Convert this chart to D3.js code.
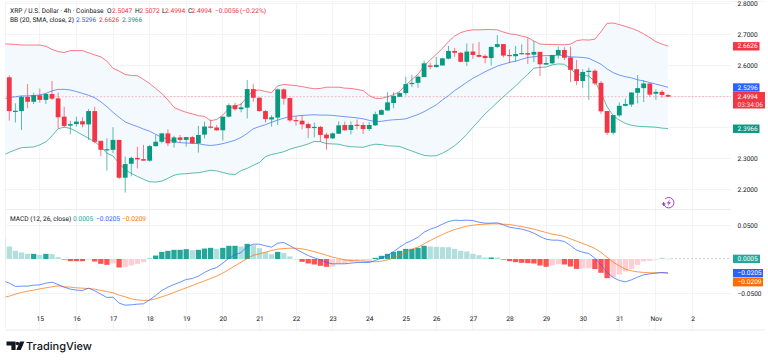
<!DOCTYPE html>
<html><head><meta charset="utf-8">
<script src="https://cdn.jsdelivr.net/npm/d3@7/dist/d3.min.js"></script>
<style>html,body{margin:0;padding:0;background:#fff;overflow:hidden}svg{display:block;font-family:Roboto,Arial,sans-serif;text-rendering:geometricPrecision}</style>
</head><body><svg id="c" width="768" height="361"></svg>
<script>
const opens=[2.562,2.452,2.453,2.499,2.483,2.504,2.489,2.508,2.494,2.435,2.406,2.411,2.420,2.410,2.453,2.357,2.328,2.328,2.360,2.238,2.283,2.302,2.298,2.293,2.340,2.354,2.381,2.351,2.368,2.360,2.369,2.349,2.377,2.403,2.400,2.391,2.435,2.472,2.459,2.464,2.524,2.496,2.453,2.426,2.432,2.523,2.495,2.424,2.422,2.411,2.399,2.402,2.377,2.365,2.380,2.408,2.392,2.409,2.408,2.395,2.407,2.441,2.455,2.479,2.499,2.511,2.540,2.544,2.563,2.600,2.595,2.600,2.622,2.647,2.641,2.612,2.645,2.634,2.631,2.624,2.660,2.669,2.634,2.630,2.638,2.640,2.635,2.644,2.603,2.607,2.634,2.650,2.626,2.588,2.550,2.579,2.583,2.544,2.453,2.383,2.439,2.470,2.474,2.512,2.527,2.542,2.509,2.515,2.5047];
const highs=[2.568,2.478,2.502,2.540,2.512,2.526,2.510,2.550,2.513,2.467,2.422,2.435,2.433,2.460,2.467,2.357,2.365,2.401,2.360,2.306,2.306,2.338,2.344,2.344,2.376,2.383,2.394,2.373,2.376,2.370,2.373,2.405,2.419,2.426,2.408,2.435,2.478,2.480,2.480,2.553,2.540,2.498,2.456,2.440,2.526,2.526,2.495,2.437,2.440,2.416,2.416,2.405,2.383,2.384,2.420,2.419,2.420,2.426,2.416,2.418,2.451,2.459,2.514,2.514,2.514,2.564,2.570,2.568,2.616,2.609,2.628,2.625,2.663,2.657,2.644,2.671,2.671,2.676,2.636,2.661,2.698,2.669,2.652,2.663,2.668,2.688,2.679,2.644,2.628,2.634,2.661,2.659,2.661,2.618,2.588,2.593,2.588,2.550,2.453,2.440,2.481,2.493,2.513,2.569,2.553,2.542,2.523,2.521,2.5072];
const lows=[2.422,2.416,2.392,2.462,2.476,2.480,2.476,2.489,2.397,2.401,2.378,2.403,2.401,2.360,2.349,2.308,2.261,2.317,2.233,2.190,2.242,2.268,2.293,2.290,2.338,2.349,2.340,2.335,2.351,2.338,2.347,2.319,2.365,2.397,2.389,2.358,2.433,2.454,2.449,2.429,2.483,2.451,2.416,2.403,2.408,2.474,2.418,2.406,2.394,2.366,2.368,2.354,2.328,2.363,2.379,2.390,2.378,2.394,2.379,2.389,2.405,2.440,2.454,2.462,2.499,2.503,2.530,2.528,2.562,2.588,2.593,2.600,2.620,2.628,2.610,2.598,2.621,2.626,2.607,2.600,2.656,2.626,2.607,2.612,2.636,2.605,2.611,2.566,2.602,2.605,2.622,2.618,2.546,2.537,2.528,2.489,2.537,2.444,2.376,2.377,2.435,2.468,2.467,2.478,2.482,2.499,2.489,2.496,2.4994];
const closes=[2.453,2.454,2.499,2.483,2.504,2.489,2.508,2.493,2.433,2.405,2.411,2.419,2.410,2.453,2.354,2.328,2.330,2.360,2.238,2.282,2.302,2.297,2.293,2.340,2.354,2.381,2.349,2.368,2.360,2.369,2.349,2.376,2.403,2.400,2.391,2.435,2.472,2.459,2.465,2.524,2.496,2.453,2.427,2.433,2.523,2.493,2.423,2.422,2.410,2.398,2.402,2.376,2.365,2.381,2.407,2.391,2.408,2.407,2.395,2.408,2.443,2.456,2.481,2.502,2.511,2.540,2.544,2.564,2.607,2.596,2.602,2.623,2.647,2.641,2.612,2.645,2.634,2.628,2.624,2.660,2.669,2.632,2.632,2.637,2.640,2.635,2.644,2.604,2.608,2.634,2.650,2.625,2.586,2.550,2.579,2.583,2.542,2.452,2.383,2.440,2.470,2.476,2.513,2.527,2.542,2.506,2.515,2.505,2.4994];

// Bollinger and MACD series begin one bar before the first visible candle.
const bbUpper=[2.670,2.669,2.668,2.666,2.666,2.666,2.666,2.662,2.652,2.645,2.642,2.648,2.648,2.648,2.641,2.634,2.628,2.614,2.591,2.582,2.571,2.568,2.567,2.555,2.542,2.526,2.510,2.489,2.465,2.456,2.449,2.444,2.438,2.436,2.422,2.426,2.440,2.462,2.469,2.475,2.499,2.519,2.521,2.516,2.513,2.534,2.539,2.537,2.535,2.532,2.528,2.525,2.526,2.530,2.530,2.530,2.527,2.526,2.523,2.519,2.503,2.494,2.494,2.499,2.506,2.516,2.537,2.555,2.572,2.598,2.618,2.636,2.655,2.677,2.695,2.706,2.712,2.715,2.715,2.716,2.716,2.715,2.708,2.702,2.700,2.695,2.690,2.679,2.669,2.668,2.668,2.667,2.667,2.669,2.680,2.683,2.682,2.685,2.709,2.736,2.737,2.732,2.726,2.720,2.712,2.702,2.690,2.677,2.669,2.6626];
const bbBasis=[2.491,2.497,2.499,2.502,2.502,2.503,2.505,2.510,2.518,2.523,2.523,2.521,2.516,2.510,2.504,2.496,2.483,2.467,2.449,2.433,2.418,2.410,2.403,2.395,2.388,2.378,2.368,2.362,2.355,2.351,2.350,2.349,2.348,2.344,2.342,2.344,2.348,2.353,2.359,2.368,2.381,2.396,2.403,2.409,2.417,2.424,2.430,2.435,2.437,2.439,2.440,2.441,2.440,2.440,2.439,2.437,2.435,2.433,2.431,2.428,2.423,2.419,2.420,2.423,2.425,2.426,2.428,2.435,2.442,2.451,2.462,2.473,2.489,2.503,2.519,2.532,2.546,2.559,2.569,2.580,2.589,2.598,2.604,2.610,2.614,2.620,2.626,2.628,2.631,2.632,2.632,2.633,2.632,2.628,2.627,2.626,2.623,2.614,2.604,2.589,2.577,2.569,2.564,2.560,2.554,2.550,2.545,2.540,2.535,2.5296];
const bbLower=[2.311,2.320,2.328,2.335,2.336,2.337,2.344,2.354,2.373,2.396,2.401,2.397,2.387,2.376,2.365,2.354,2.338,2.317,2.308,2.285,2.263,2.252,2.242,2.233,2.225,2.224,2.227,2.236,2.246,2.250,2.251,2.253,2.254,2.258,2.262,2.260,2.255,2.250,2.248,2.261,2.268,2.278,2.287,2.306,2.313,2.317,2.322,2.330,2.336,2.341,2.347,2.355,2.354,2.348,2.347,2.346,2.341,2.338,2.337,2.336,2.342,2.346,2.345,2.341,2.340,2.339,2.331,2.324,2.317,2.310,2.308,2.309,2.317,2.328,2.341,2.358,2.378,2.401,2.422,2.444,2.462,2.481,2.499,2.517,2.534,2.553,2.572,2.591,2.594,2.595,2.602,2.605,2.604,2.589,2.572,2.568,2.566,2.548,2.512,2.467,2.438,2.424,2.413,2.407,2.404,2.403,2.402,2.401,2.398,2.3966];
const macdHist=[.0296,.0184,.0120,.0096,.0076,.0076,.0061,.0076,.0071,.0027,-.0007,-.0032,-.0032,-.0032,-.0010,-.0037,-.0071,-.0086,-.0066,-.0125,-.0120,-.0096,-.0071,-.0047,.0017,.0051,.0105,.0120,.0135,.0135,.0145,.0130,.0135,.0154,.0164,.0149,.0164,.0194,.0194,.0184,.0223,.0203,.0159,.0100,.0071,.0105,.0091,.0037,-.0007,-.0042,-.0066,-.0081,-.0100,-.0115,-.0110,-.0071,-.0071,-.0047,-.0032,-.0027,-.0027,.0017,.0047,.0076,.0105,.0120,.0149,.0149,.0164,.0194,.0184,.0179,.0174,.0174,.0149,.0120,.0110,.0076,.0056,.0022,.0022,.0022,-.0007,-.0032,-.0047,-.0056,-.0061,-.0066,-.0096,-.0115,-.0096,-.0076,-.0081,-.0110,-.0145,-.0140,-.0135,-.0149,-.0203,-.0282,-.0272,-.0228,-.0184,-.0145,-.0086,-.0037,-.0027,-.0007,.0017,.0005];
const histRising=[0,0,0,0,0,1,0,1,0,0,0,0,0,0,1,0,0,0,1,0,1,1,1,1,0,1,1,1,1,1,1,0,1,1,1,0,1,1,1,0,1,0,0,0,0,1,0,0,1,0,0,0,0,0,1,1,1,1,1,1,1,1,1,1,1,1,1,1,1,1,0,0,0,0,0,0,0,0,0,0,1,0,0,0,0,0,0,0,0,0,1,1,0,0,0,1,1,0,0,0,1,1,1,1,1,1,1,1,0,0];
const macdLine=[-.0321,-.0355,-.0404,-.0399,-.0399,-.0385,-.0380,-.0355,-.0341,-.0375,-.0414,-.0443,-.0458,-.0463,-.0429,-.0468,-.0517,-.0566,-.0561,-.0649,-.0679,-.0674,-.0664,-.0659,-.0600,-.0537,-.0463,-.0414,-.0375,-.0341,-.0301,-.0287,-.0252,-.0198,-.0154,-.0125,-.0061,.0012,.0061,.0096,.0184,.0218,.0218,.0194,.0174,.0233,.0243,.0194,.0145,.0096,.0051,.0017,-.0012,-.0051,-.0071,-.0071,-.0071,-.0061,-.0051,-.0051,-.0051,-.0022,.0012,.0051,.0110,.0174,.0233,.0272,.0321,.0394,.0439,.0468,.0512,.0551,.0571,.0566,.0571,.0566,.0541,.0527,.0527,.0532,.0502,.0468,.0453,.0439,.0414,.0380,.0331,.0292,.0277,.0277,.0257,.0198,.0130,.0100,.0081,.0012,-.0086,-.0198,-.0272,-.0316,-.0336,-.0306,-.0267,-.0233,-.0218,-.0208,-.0198,-.0205];
const signalLine=[-.0566,-.0546,-.0517,-.0492,-.0473,-.0458,-.0439,-.0424,-.0409,-.0394,-.0409,-.0414,-.0424,-.0429,-.0434,-.0443,-.0463,-.0478,-.0497,-.0532,-.0556,-.0586,-.0600,-.0610,-.0605,-.0586,-.0556,-.0527,-.0492,-.0458,-.0424,-.0390,-.0355,-.0321,-.0287,-.0252,-.0208,-.0154,-.0100,-.0047,.0007,.0056,.0076,.0100,.0125,.0145,.0154,.0159,.0159,.0149,.0130,.0110,.0081,.0056,.0027,.0007,-.0012,-.0022,-.0027,-.0032,-.0037,-.0042,-.0032,-.0012,.0012,.0051,.0100,.0145,.0174,.0223,.0272,.0316,.0360,.0399,.0434,.0458,.0483,.0497,.0507,.0512,.0517,.0517,.0512,.0507,.0492,.0478,.0458,.0439,.0414,.0390,.0365,.0350,.0331,.0296,.0262,.0228,.0194,.0154,.0096,.0027,-.0047,-.0100,-.0149,-.0174,-.0189,-.0198,-.0203,-.0203,-.0203,-.0209];

const dayTickBars=[5,11,17,23,29,35,41,47,53,59,65,70,76,82,88,94,100,106,112];
const dayTickLabels=["15","16","17","18","19","20","21","22","23","24","25","26","27","28","29","30","31","Nov","2"];
const priceTicks=[2.8,2.7,2.6,2.5,2.4,2.3,2.2];
const priceTickLabels=[2.8,2.7,2.6,2.3,2.2];
const macdTicks=[.05,-.05];
const lastPrice=2.4994, countdown="03:34:06";

const RED="#f23645",GREEN="#089981",BLUE="#2962ff",ORANGE="#ff6d00",TEAL="#26a69a",TXT="#131722";
const L=5.5,R=731,W=768;
const x=d3.scaleLinear().domain([0,108]).range([9.3,668.1]);
const y=d3.scaleLinear().domain([2.2,2.8]).range([189.5,3.5]);
const yM=d3.scaleLinear().domain([-.05,.05]).range([293,225]);
const svg=d3.select("#c");
svg.append("defs").append("clipPath").attr("id","plot").append("rect")
  .attr("x",L).attr("y",0).attr("width",R-L).attr("height",329);

// Grid
const grid=svg.append("g").attr("stroke","#f2f3f6").attr("stroke-width",1).attr("shape-rendering","crispEdges");
grid.selectAll(".v").data(dayTickBars).join("line").attr("x1",d=>x(d)).attr("x2",d=>x(d)).attr("y1",2).attr("y2",329);
grid.selectAll(".h").data(priceTicks).join("line").attr("x1",L).attr("x2",R).attr("y1",d=>y(d)).attr("y2",d=>y(d));
grid.selectAll(".m").data(macdTicks).join("line").attr("x1",L).attr("x2",R).attr("y1",d=>yM(d)).attr("y2",d=>yM(d));
grid.append("line").attr("x1",L).attr("x2",L).attr("y1",2).attr("y2",329);
grid.append("line").attr("x1",L).attr("x2",R).attr("y1",209).attr("y2",209).attr("stroke","#eceef2");
svg.append("rect").attr("x",L).attr("y",329).attr("width",W-L-3).attr("height",2).attr("fill","#f3f4f6");
svg.append("rect").attr("x",L).attr("y",1).attr("width",W-L-3).attr("height",1).attr("fill","#f5f6f8");

const plot=svg.append("g").attr("clip-path","url(#plot)");
const bandIdx=i=>i-1;
// Band fill
plot.append("path").attr("fill","#f4f9fe")
  .attr("d",d3.area().x((d,i)=>x(bandIdx(i))).y0((d,i)=>y(bbLower[i])).y1(d=>y(d))(bbUpper));
// Last price line
plot.append("line").attr("x1",L).attr("x2",R).attr("y1",y(lastPrice)).attr("y2",y(lastPrice))
  .attr("stroke",RED).attr("stroke-opacity",.32).attr("stroke-dasharray","2 1.5");
const ln=d3.line().x((d,i)=>x(bandIdx(i)));
[[bbUpper,RED],[bbBasis,BLUE],[bbLower,GREEN]].forEach(([s,c])=>{
  plot.append("path").attr("fill","none").attr("stroke",c).attr("stroke-width",1).attr("stroke-opacity",.65)
    .attr("d",ln.y(d=>y(d))(s));
});
// Candles
const cd=d3.range(opens.length);
const col=i=>closes[i]>=opens[i]?GREEN:RED;
plot.selectAll(".w").data(cd).join("line").attr("x1",i=>x(i)).attr("x2",i=>x(i))
  .attr("y1",i=>y(highs[i])).attr("y2",i=>y(lows[i])).attr("stroke",col).attr("stroke-width",1).attr("stroke-opacity",.65);
plot.selectAll(".b").data(cd).join("rect").attr("x",i=>x(i)-2.4).attr("width",4.8)
  .attr("y",i=>y(Math.max(opens[i],closes[i])))
  .attr("height",i=>Math.max(1.2,Math.abs(y(opens[i])-y(closes[i])))).attr("fill",col);

// MACD histogram
plot.selectAll(".h").data(macdHist).join("rect")
  .attr("x",(d,i)=>x(bandIdx(i))-2.65).attr("width",5.3)
  .attr("y",d=>Math.min(yM(d),yM(0))).attr("height",d=>Math.max(.6,Math.abs(yM(d)-yM(0))))
  .attr("fill",(d,i)=>d>=0?(histRising[i]?TEAL:"#b2dfdb"):(histRising[i]?"#ffcdd2":"#ff5252"));
plot.append("line").attr("x1",x(108)+3).attr("x2",R).attr("y1",yM(.0005)).attr("y2",yM(.0005))
  .attr("stroke","#c8cbd0").attr("stroke-dasharray","2 2");
[[signalLine,ORANGE],[macdLine,BLUE]].forEach(([s,c])=>{
  plot.append("path").attr("fill","none").attr("stroke",c).attr("stroke-width",1).attr("stroke-opacity",.7)
    .attr("d",ln.y(d=>yM(d))(s));
});

// Axes
const fs=6.6;
function styleAxis(g){g.select(".domain").remove();g.selectAll("line").remove();
  g.selectAll("text").attr("font-size",fs).attr("fill",TXT).attr("font-family","Roboto,Arial,sans-serif");}
svg.append("g").attr("transform","translate(737.5,0)")
  .call(d3.axisRight(y).tickValues(priceTickLabels).tickFormat(d3.format(".4f")).tickSize(0).tickPadding(0)).call(styleAxis);
svg.append("g").attr("transform","translate(737.5,0)")
  .call(d3.axisRight(yM).tickValues(macdTicks).tickFormat(d3.format(".4f")).tickSize(0).tickPadding(0)).call(styleAxis);
svg.append("g").attr("transform","translate(0,316.5)")
  .call(d3.axisBottom(x).tickValues(dayTickBars).tickFormat((d,i)=>dayTickLabels[i]).tickSize(0).tickPadding(0)).call(styleAxis);

// Price tags
const tags=[
 {v:y(2.6626),t:"2.6626",c:RED,w:26.5},
 {v:y(2.5296),t:"2.5296",c:BLUE,w:26.5},
 {v:y(2.3966),t:"2.3966",c:GREEN,w:26.5},
 {v:yM(.0005),t:"0.0005",c:TEAL,w:27},
 {v:273,t:"\u22120.0205",c:BLUE,w:30},
 {v:282,t:"\u22120.0209",c:ORANGE,w:30}];
tags.forEach(d=>{
  svg.append("rect").attr("x",733).attr("y",d.v-4).attr("width",d.w).attr("height",8.4).attr("fill",d.c);
  svg.append("text").attr("x",737.5).attr("y",d.v+2.4).attr("font-size",fs).attr("fill","#fff").text(d.t);
});
svg.append("rect").attr("x",733).attr("y",92).attr("width",32).attr("height",16.5).attr("fill",RED);
svg.append("text").attr("x",737.5).attr("y",99).attr("font-size",fs).attr("fill","#fff").text(lastPrice.toFixed(4));
svg.append("text").attr("x",737.5).attr("y",107).attr("font-size",fs).attr("fill","#fff").attr("fill-opacity",.85).text(countdown);

// Legends
function legend(yy,parts){
  parts.forEach(p=>svg.append("text").attr("x",p[2]).attr("y",yy).attr("font-size",6.6).attr("fill",p[1]).text(p[0]));
}
legend(13,[["XRP / U.S. Dollar · 4h · Coinbase",TXT,10],["O",TXT,107],["2.5047",RED,112],["H",TXT,135],["2.5072",RED,139.5],["L",TXT,162],["2.4994",RED,165],["C",TXT,188],["2.4994",RED,191.5],["\u22120.0056",RED,215],["(\u22120.22%)",RED,240]]);
legend(22,[["BB (20, SMA, close, 2)",TXT,10],["2.5296",BLUE,76],["2.6626",RED,99],["2.3966",GREEN,122]]);
legend(221,[["MACD (12, 26, close)",TXT,10],["0.0005",TEAL,73],["\u22120.0205",BLUE,96],["\u22120.0209",ORANGE,122]]);

// Purple event marker
const ev=svg.append("g");
ev.append("circle").attr("cx",668.7).attr("cy",202.7).attr("r",5.2).attr("fill","none").attr("stroke","#a83fc9").attr("stroke-width",1)
  .attr("stroke-dasharray","24 4").attr("stroke-dashoffset",-20);
ev.append("path").attr("fill","#a83fc9").attr("d","M670.6 198.9L666.6 203.6H668.9L667.3 206.8L671 202.3H668.7Z");
ev.append("path").attr("fill","none").attr("stroke","#6a3fd6").attr("stroke-width",1).attr("d","M661.8 204H665.6M663.7 202.1V205.9");

// TradingView logo
const logo=svg.append("g").attr("fill","#131722");
logo.append("path").attr("d","M6.5 341.5H15.6V350H11.4V345.6H6.5Z");
logo.append("circle").attr("cx",17.4).attr("cy",343.5).attr("r",1.8);
logo.append("path").attr("d","M19.9 341.5H24.4L20.8 350H16.3Z");
svg.append("text").attr("x",26).attr("y",350).attr("font-family","Inter,Roboto,sans-serif")
  .attr("font-size",11).attr("font-weight",500).attr("fill","#131722").text("TradingView");
</script></body></html>
